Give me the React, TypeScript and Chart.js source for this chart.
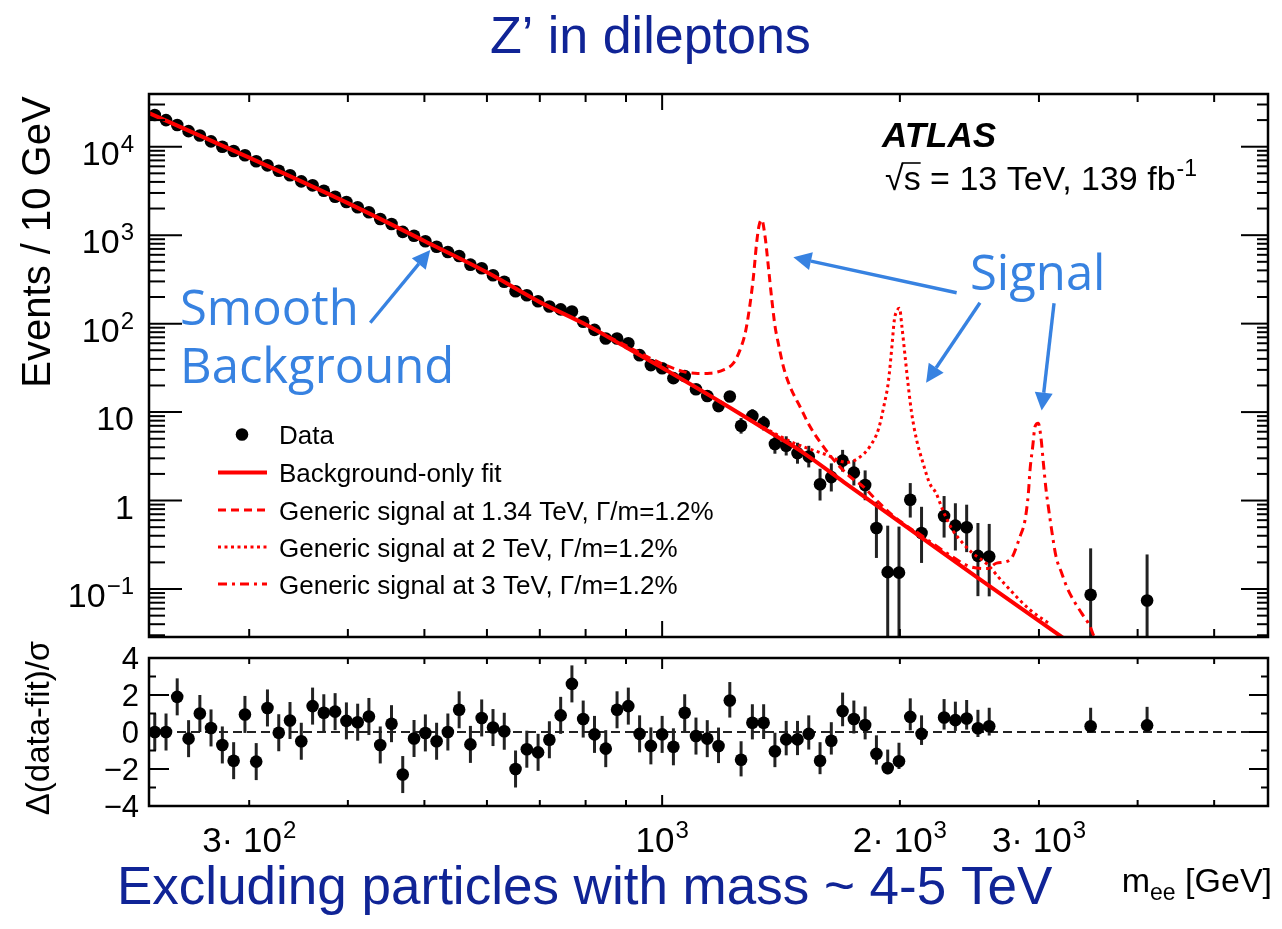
import React, { useEffect, useRef } from "react";
import { Chart, registerables } from "chart.js";

Chart.register(...registerables);

// ---------------- data ----------------
// bin centres (GeV) of the displayed data points
const massBins = [
  227.8, 235.4, 243.2, 251.4, 259.8, 268.4, 277.4, 286.7, 296.3, 306.2,
  316.4, 327.0, 337.9, 349.2, 360.9, 372.9, 385.4, 398.3, 411.6, 425.3,
  439.6, 454.3, 469.4, 485.1, 501.4, 518.1, 535.4, 553.3, 571.8, 590.9,
  610.7, 631.1, 652.2, 674.0, 696.5, 719.8, 743.9, 768.7, 794.4, 821.0,
  848.4, 876.8, 906.1, 936.4, 967.7, 1000.0, 1033.4, 1068.0, 1103.7, 1140.6,
  1178.7, 1218.1, 1258.8, 1300.9, 1344.4, 1389.3, 1435.8, 1483.8, 1533.4, 1584.7,
  1637.6, 1692.4, 1748.9, 1807.4, 1867.8, 1930.3, 1994.8, 2061.5, 2130.4,
  2275.2, 2351.3, 2429.9, 2511.1, 2595.1,
  3488, 4112,
];
// events / 10 GeV
const dataValues = [
  22800, 20000, 17600, 15000, 13400, 11500, 10000, 8940, 8000, 6840,
  6160, 5350, 4750, 4060, 3660, 3180, 2720, 2370, 2070, 1815,
  1525, 1340, 1090, 987, 853, 741, 646, 582, 464, 423,
  352, 298, 232, 209, 179, 156, 145, 137, 105, 85,
  68, 68, 60, 44, 34, 31.3, 24.2, 25.6, 18.1, 15.2,
  11.7, 15.0, 7.0, 9.05, 7.5, 4.35, 4.16, 3.44, 3.15, 1.53,
  1.84, 2.83, 2.07, 1.5, 0.49, 0.155, 0.153, 1.02, 0.43,
  0.67, 0.52, 0.5, 0.237, 0.233,
  0.086, 0.074,
];
// Δ(data-fit)/σ
const residuals = [
  0.0, 0.0, 1.9, -0.36, 1.0, 0.22, -0.7, -1.55, 0.95, -1.6,
  1.3, -0.04, 0.62, -0.5, 1.4, 1.04, 1.1, 0.6, 0.53, 0.84,
  -0.7, 0.45, -2.3, -0.35, -0.05, -0.5, 0.0, 1.2, -0.67, 0.76,
  0.24, 0.04, -2.0, -0.93, -1.1, -0.42, 0.9, 2.6, 0.7, -0.13,
  -0.9, 1.2, 1.4, -0.1, -0.75, -0.13, -0.8, 1.04, -0.22, -0.36,
  -0.76, 1.7, -1.5, 0.5, 0.5, -1.04, -0.4, -0.4, -0.1, -1.55,
  -0.47, 1.13, 0.7, 0.38, -1.18, -1.95, -1.58, 0.82, -0.1,
  0.78, 0.64, 0.73, 0.2, 0.31,
  0.31, 0.36,
];
const residualErrDown = [
  1, 1, 1, 1, 1, 1, 1, 1, 1, 1,
  1, 1, 1, 1, 1, 1, 1, 1, 1, 1,
  1, 1, 1, 1, 1, 1, 1, 1, 1, 1,
  1, 1, 1, 1, 1, 1, 1, 1, 1, 1,
  1, 1, 1, 1, 1, 1, 1, 1, 1, 1,
  0.92, 0.92, 0.9, 0.9, 0.88, 0.86, 0.86, 0.85, 0.85, 0.73,
  0.75, 0.82, 0.78, 0.78, 0.58, 0.33, 0.42, 0.73, 0.6,
  0.65, 0.58, 0.6, 0.47, 0.5,
  0.18, 0.24,
];
const RESIDUAL_ERR_UP = 1.0;

const fitMass = [224, 300, 400, 500, 600, 700, 800, 900, 1000, 1200, 1400, 1500, 1700, 2000, 2500, 3000, 3600];
const fitValues = [24000, 7520, 2300, 860, 380, 175, 97.5, 54, 31.7, 12.2, 5.25, 3.6, 1.61, 0.57, 0.137, 0.0436, 0.0139];

const signal134Mass = [800, 834, 920, 994, 1064, 1110, 1150, 1196, 1231, 1255, 1274, 1289, 1305, 1317, 1327, 1337, 1350, 1363, 1377, 1390, 1403, 1424, 1452, 1495, 1539, 1600, 1663, 1729, 1797, 1860, 1950, 2100];
const signal134Values = [98, 80, 51, 36, 28.7, 27.3, 27.5, 30, 35.7, 50.5, 78, 143, 340, 810, 1303, 1486, 962, 441, 185, 92.5, 60, 32.7, 19.4, 11.5, 6.86, 4.07, 2.64, 1.86, 1.44, 1.05, 0.7, 0.43];

const signal2Mass = [1300, 1466, 1616, 1713, 1780, 1833, 1880, 1910, 1934, 1954, 1968, 1986, 1998, 2012, 2031, 2050, 2070, 2100, 2140, 2181, 2223, 2265, 2330, 2403, 2473, 2571, 2700, 2923, 3100];
const signal2Values = [7.9, 4.5, 3.28, 2.7, 3.1, 4.1, 6.5, 12, 22, 55, 110, 143, 149, 92, 42, 19.4, 9.7, 4.85, 2.64, 1.57, 1.21, 0.79, 0.47, 0.33, 0.254, 0.196, 0.12, 0.058, 0.04];

const signal3Mass = [2100, 2300, 2450, 2580, 2652, 2757, 2839, 2881, 2909, 2923, 2946, 2966, 2994, 3018, 3039, 3063, 3083, 3113, 3153, 3206, 3253, 3317, 3399, 3483, 3516, 3600];
const signal3Values = [0.44, 0.25, 0.18, 0.17, 0.196, 0.213, 0.392, 0.605, 1.21, 2.22, 4.08, 6.87, 7.5, 5.08, 2.65, 1.32, 0.855, 0.466, 0.233, 0.151, 0.106, 0.075, 0.053, 0.0376, 0.0303, 0.024];

// axis ticks and labels
const xMinorTicks = [300, 400, 500, 600, 700, 800, 900, 2000, 3000, 4000, 5000];
const xMajorTicks = [1000];
const xTickLabels = [
  { value: 300, base: "3\u00b7 10", exp: "2" },
  { value: 1000, base: "10", exp: "3" },
  { value: 2000, base: "2\u00b7 10", exp: "3" },
  { value: 3000, base: "3\u00b7 10", exp: "3" },
];
const yTickLabels = [
  { value: 1e4, base: "10", exp: "4" },
  { value: 1e3, base: "10", exp: "3" },
  { value: 1e2, base: "10", exp: "2" },
  { value: 10, base: "10", exp: "" },
  { value: 1, base: "1", exp: "" },
  { value: 0.1, base: "10", exp: "\u22121" },
];
const residualTickLabels = [4, 2, 0, -2, -4];
const residualMinorTicks = [3, 1, -1, -3];

const legendLabels = [
  "Data",
  "Background-only fit",
  "Generic signal at 1.34 TeV, \u0393/m=1.2%",
  "Generic signal at 2 TeV, \u0393/m=1.2%",
  "Generic signal at 3 TeV, \u0393/m=1.2%",
];

// annotation arrows, in data coordinates [mass, events]
const arrowSpecs = [
  { from: [427, 102.4], to: [508.6, 679] },
  { from: [2360, 223.6], to: [1466, 562] },
  { from: [2526, 172.5], to: [2159, 21.5] },
  { from: [3135, 169.8], to: [3024, 10.4] },
];

// ---------------- style ----------------
const FONT = '"Liberation Sans", Arial, Helvetica, sans-serif';
const ANN_FONT = '"Open Sans", "Noto Sans", sans-serif';
const NAVY = "#102496";
const LIGHT_BLUE = "#3782e1";
const RED = "#ff0000";
const DASHED = [8, 5];
const DOTTED = [3, 3.5];
const DASHDOT = [9, 5, 3, 5];
const BIN_LOG_WIDTH = 0.01428; // decades
const MARKER_R = 6.3;

const X_MIN = 224;
const X_MAX = 5850;

function poissonBand(m: number, v: number): [number, number] {
  const width = m * (Math.pow(10, BIN_LOG_WIDTH / 2) - Math.pow(10, -BIN_LOG_WIDTH / 2));
  const n = (v * width) / 10;
  const up = n + Math.sqrt(n + 0.75) + 1;
  const f = Math.max(1 - 1 / (9 * n) - 1 / (3 * Math.sqrt(n)), 0);
  const lo = n * f * f * f;
  return [(v * lo) / n, (v * up) / n];
}

function pts(xs: number[], ys: number[]) {
  return xs.map((x, i) => ({ x, y: ys[i] }));
}

function line(ctx: CanvasRenderingContext2D, x1: number, y1: number, x2: number, y2: number) {
  ctx.beginPath();
  ctx.moveTo(x1, y1);
  ctx.lineTo(x2, y2);
  ctx.stroke();
}

function drawPow(
  ctx: CanvasRenderingContext2D,
  base: string,
  exp: string,
  x: number,
  y: number,
  size: number,
  expSize: number,
  raise: number,
  align: "left" | "right" | "center"
) {
  ctx.font = `${size}px ${FONT}`;
  const wb = ctx.measureText(base).width;
  ctx.font = `${expSize}px ${FONT}`;
  const we = exp ? ctx.measureText(exp).width + 1 : 0;
  const total = wb + we;
  const x0 = align === "right" ? x - total : align === "center" ? x - total / 2 : x;
  ctx.textAlign = "left";
  ctx.textBaseline = "alphabetic";
  ctx.font = `${size}px ${FONT}`;
  ctx.fillText(base, x0, y);
  if (exp) {
    ctx.font = `${expSize}px ${FONT}`;
    ctx.fillText(exp, x0 + wb + 1, y - raise);
  }
}

function drawArrow(ctx: CanvasRenderingContext2D, x1: number, y1: number, x2: number, y2: number) {
  const ang = Math.atan2(y2 - y1, x2 - x1);
  const headLen = 18;
  const headW = 9;
  const bx = x2 - headLen * Math.cos(ang);
  const by = y2 - headLen * Math.sin(ang);
  ctx.strokeStyle = LIGHT_BLUE;
  ctx.fillStyle = LIGHT_BLUE;
  ctx.lineWidth = 3.4;
  ctx.setLineDash([]);
  line(ctx, x1, y1, bx, by);
  ctx.beginPath();
  ctx.moveTo(x2, y2);
  ctx.lineTo(bx + headW * Math.sin(ang), by - headW * Math.cos(ang));
  ctx.lineTo(bx - headW * Math.sin(ang), by + headW * Math.cos(ang));
  ctx.closePath();
  ctx.fill();
}

function drawXTicks(ctx: CanvasRenderingContext2D, xs: any, a: any, minorLen: number, majorLen: number) {
  ctx.strokeStyle = "#000";
  ctx.lineWidth = 2;
  ctx.setLineDash([]);
  xMinorTicks.forEach((v) => {
    const px = xs.getPixelForValue(v);
    line(ctx, px, a.bottom, px, a.bottom - minorLen);
    line(ctx, px, a.top, px, a.top + minorLen);
  });
  xMajorTicks.forEach((v) => {
    const px = xs.getPixelForValue(v);
    line(ctx, px, a.bottom, px, a.bottom - majorLen);
    line(ctx, px, a.top, px, a.top + majorLen);
  });
}

const mainPlugin = {
  id: "mainDecor",
  beforeDatasetsDraw(chart: any) {
    const { ctx, chartArea: a, scales } = chart;
    const xs = scales.x;
    const ys = scales.y;
    ctx.save();
    ctx.beginPath();
    ctx.rect(a.left, a.top, a.right - a.left, a.bottom - a.top);
    ctx.clip();
    ctx.strokeStyle = "#222";
    ctx.lineWidth = 3;
    massBins.forEach((m, i) => {
      const [lo, hi] = poissonBand(m, dataValues[i]);
      const px = xs.getPixelForValue(m);
      line(ctx, px, ys.getPixelForValue(lo), px, ys.getPixelForValue(hi));
    });
    ctx.restore();
  },
  afterDraw(chart: any) {
    const { ctx, chartArea: a, scales } = chart;
    const xs = scales.x;
    const ys = scales.y;
    ctx.save();

    // frame
    ctx.strokeStyle = "#000";
    ctx.lineWidth = 2.5;
    ctx.setLineDash([]);
    ctx.strokeRect(a.left, a.top, a.right - a.left, a.bottom - a.top);

    // y ticks (log)
    ctx.lineWidth = 2;
    for (let k = -2; k <= 4; k++) {
      for (let j = 1; j <= 9; j++) {
        const v = j * Math.pow(10, k);
        if (v < ys.min || v > ys.max) continue;
        const py = ys.getPixelForValue(v);
        const major = j === 1;
        line(ctx, a.left, py, a.left + (major ? 33 : 16), py);
        line(ctx, a.right, py, a.right - (major ? 27 : 11), py);
      }
    }
    drawXTicks(ctx, xs, a, 8, 16);

    // y labels
    ctx.fillStyle = "#000";
    yTickLabels.forEach((t) => {
      const py = ys.getPixelForValue(t.value);
      drawPow(ctx, t.base, t.exp, 134, py + 18, 34, 24, 13, "right");
    });

    // y title
    ctx.save();
    ctx.translate(50, 242);
    ctx.rotate(-Math.PI / 2);
    ctx.font = `40px ${FONT}`;
    ctx.textAlign = "center";
    ctx.textBaseline = "alphabetic";
    ctx.fillText("Events / 10 GeV", 0, 0);
    ctx.restore();

    // page title and bottom line
    ctx.fillStyle = NAVY;
    ctx.textAlign = "left";
    ctx.font = `52px ${FONT}`;
    ctx.fillText("Z\u2019 in dileptons", 490, 53);
    ctx.font = `53px ${FONT}`;
    ctx.fillText("Excluding particles with mass ~ 4-5 TeV", 117, 904);

    // ATLAS label
    ctx.fillStyle = "#000";
    ctx.font = `italic bold 35px ${FONT}`;
    ctx.fillText("ATLAS", 882, 147);
    ctx.font = `34px ${FONT}`;
    const wRoot = ctx.measureText("\u221a").width;
    const wS = ctx.measureText("s").width;
    drawPow(ctx, "\u221as = 13 TeV, 139 fb", "-1", 885, 190, 34, 23, 14, "left");
    ctx.strokeStyle = "#000";
    ctx.lineWidth = 1.6;
    line(ctx, 885 + wRoot - 2, 163, 885 + wRoot + wS, 163);

    // legend
    const rows = [434.5, 472.5, 510, 547, 584];
    const styles = [null, [], DASHED, DOTTED, DASHDOT];
    rows.forEach((ry, i) => {
      if (i === 0) {
        ctx.fillStyle = "#000";
        ctx.beginPath();
        ctx.arc(242, ry, MARKER_R, 0, Math.PI * 2);
        ctx.fill();
      } else {
        ctx.strokeStyle = RED;
        ctx.lineWidth = i === 1 ? 4 : 3;
        ctx.setLineDash(styles[i] as number[]);
        line(ctx, 218, ry, 267, ry);
        ctx.setLineDash([]);
      }
      ctx.fillStyle = "#000";
      ctx.font = `26px ${FONT}`;
      ctx.textAlign = "left";
      ctx.textBaseline = "alphabetic";
      ctx.fillText(legendLabels[i], 279, ry + 9.5);
    });

    // annotations
    ctx.fillStyle = LIGHT_BLUE;
    ctx.font = `49px ${ANN_FONT}`;
    ctx.textAlign = "left";
    ctx.fillText("Smooth", 180, 325);
    ctx.fillText("Background", 180, 383);
    ctx.fillText("Signal", 970, 290);
    arrowSpecs.forEach((s) => {
      drawArrow(
        ctx,
        xs.getPixelForValue(s.from[0]),
        ys.getPixelForValue(s.from[1]),
        xs.getPixelForValue(s.to[0]),
        ys.getPixelForValue(s.to[1])
      );
    });
    ctx.restore();
  },
};

const residualPlugin = {
  id: "residualDecor",
  beforeDatasetsDraw(chart: any) {
    const { ctx, chartArea: a, scales } = chart;
    const xs = scales.x;
    const ys = scales.y;
    ctx.save();
    // zero line
    ctx.strokeStyle = "#222";
    ctx.lineWidth = 2;
    ctx.setLineDash([9, 5]);
    const y0 = ys.getPixelForValue(0);
    line(ctx, a.left, y0, a.right, y0);
    ctx.setLineDash([]);
    // error bars
    ctx.beginPath();
    ctx.rect(a.left, a.top, a.right - a.left, a.bottom - a.top);
    ctx.clip();
    ctx.strokeStyle = "#222";
    ctx.lineWidth = 3;
    massBins.forEach((m, i) => {
      const px = xs.getPixelForValue(m);
      line(
        ctx,
        px,
        ys.getPixelForValue(residuals[i] - residualErrDown[i]),
        px,
        ys.getPixelForValue(residuals[i] + RESIDUAL_ERR_UP)
      );
    });
    ctx.restore();
  },
  afterDraw(chart: any) {
    const { ctx, chartArea: a, scales } = chart;
    const xs = scales.x;
    const ys = scales.y;
    ctx.save();
    ctx.strokeStyle = "#000";
    ctx.lineWidth = 2.5;
    ctx.setLineDash([]);
    ctx.strokeRect(a.left, a.top, a.right - a.left, a.bottom - a.top);

    ctx.lineWidth = 2;
    residualTickLabels.forEach((v) => {
      const py = ys.getPixelForValue(v);
      line(ctx, a.left, py, a.left + 20, py);
      line(ctx, a.right, py, a.right - 19, py);
    });
    residualMinorTicks.forEach((v) => {
      const py = ys.getPixelForValue(v);
      line(ctx, a.left, py, a.left + 7, py);
      line(ctx, a.right, py, a.right - 7, py);
    });
    drawXTicks(ctx, xs, a, 6, 11);

    // y labels
    ctx.fillStyle = "#000";
    ctx.font = `31px ${FONT}`;
    ctx.textAlign = "right";
    ctx.textBaseline = "middle";
    residualTickLabels.forEach((v) => {
      const py = ys.getPixelForValue(v);
      ctx.fillText(v < 0 ? "\u2212" + Math.abs(v) : String(v), 139, py + 2);
    });

    // x labels
    xTickLabels.forEach((t) => {
      drawPow(ctx, t.base, t.exp, xs.getPixelForValue(t.value), 852, 35, 24, 14, "center");
    });

    // x title  m_ee [GeV]
    ctx.font = `34px ${FONT}`;
    const wG = ctx.measureText(" [GeV]").width;
    const wm = ctx.measureText("m").width;
    ctx.font = `23px ${FONT}`;
    const we = ctx.measureText("ee").width;
    const right = 1272;
    const x0 = right - wG - we - wm;
    ctx.textAlign = "left";
    ctx.textBaseline = "alphabetic";
    ctx.font = `34px ${FONT}`;
    ctx.fillText("m", x0, 892);
    ctx.fillText(" [GeV]", x0 + wm + we, 892);
    ctx.font = `23px ${FONT}`;
    ctx.fillText("ee", x0 + wm, 900);

    // y title
    ctx.save();
    ctx.translate(49, 728);
    ctx.rotate(-Math.PI / 2);
    ctx.font = `33px ${FONT}`;
    ctx.textAlign = "center";
    ctx.textBaseline = "alphabetic";
    ctx.fillText("\u0394(data-fit)/\u03c3", 0, 0);
    ctx.restore();
    ctx.restore();
  },
};

export default function App() {
  const mainRef = useRef<HTMLCanvasElement | null>(null);
  const resRef = useRef<HTMLCanvasElement | null>(null);

  useEffect(() => {
    if (!mainRef.current || !resRef.current) return;
    const W = 1282;
    const H = 929;
    const curve = (data: any[], dash: number[], width: number, order: number) => ({
      data,
      showLine: true,
      pointRadius: 0,
      borderColor: RED,
      backgroundColor: RED,
      borderWidth: width,
      borderDash: dash,
      fill: false,
      cubicInterpolationMode: "monotone",
      clip: 0,
      order,
    });

    const main = new Chart(mainRef.current, {
      type: "scatter",
      data: {
        datasets: [
          {
            data: pts(massBins, dataValues),
            pointRadius: MARKER_R,
            pointBackgroundColor: "#000",
            pointBorderColor: "#000",
            pointBorderWidth: 0,
            order: 5,
          } as any,
          curve(pts(signal134Mass, signal134Values), DASHED, 3, 3),
          curve(pts(signal2Mass, signal2Values), DOTTED, 3, 3),
          curve(pts(signal3Mass, signal3Values), DASHDOT, 3, 3),
          curve(pts(fitMass, fitValues), [], 4, 1),
        ],
      },
      options: {
        animation: false,
        responsive: false,
        devicePixelRatio: 1,
        events: [],
        layout: { padding: { left: 149, top: 94, right: W - 1268, bottom: H - 637 } },
        plugins: { legend: { display: false }, tooltip: { enabled: false }, title: { display: false } },
        scales: {
          x: { type: "logarithmic", min: X_MIN, max: X_MAX, display: false },
          y: { type: "logarithmic", min: 0.02867, max: 39440, display: false },
        },
      } as any,
      plugins: [mainPlugin],
    });

    const res = new Chart(resRef.current, {
      type: "scatter",
      data: {
        datasets: [
          {
            data: pts(massBins, residuals),
            pointRadius: MARKER_R,
            pointBackgroundColor: "#000",
            pointBorderColor: "#000",
            pointBorderWidth: 0,
          } as any,
        ],
      },
      options: {
        animation: false,
        responsive: false,
        devicePixelRatio: 1,
        events: [],
        layout: { padding: { left: 149, top: 658, right: W - 1268, bottom: H - 806 } },
        plugins: { legend: { display: false }, tooltip: { enabled: false }, title: { display: false } },
        scales: {
          x: { type: "logarithmic", min: X_MIN, max: X_MAX, display: false },
          y: { type: "linear", min: -4, max: 4, display: false },
        },
      } as any,
      plugins: [residualPlugin],
    });

    return () => {
      main.destroy();
      res.destroy();
    };
  }, []);

  return (
    <div style={{ position: "absolute", left: 0, top: 0, width: 1282, height: 929, background: "#fff" }}>
      <canvas ref={mainRef} width={1282} height={929} style={{ position: "absolute", left: 0, top: 0 }} />
      <canvas ref={resRef} width={1282} height={929} style={{ position: "absolute", left: 0, top: 0 }} />
    </div>
  );
}
